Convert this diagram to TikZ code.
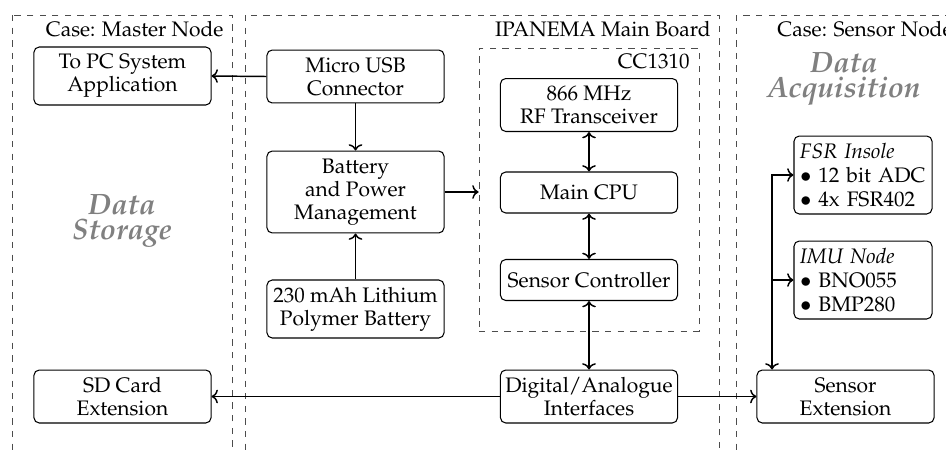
\documentclass[tikz,border=0pt]{standalone}
\usepackage[T1]{fontenc}
\usepackage{mathpazo}
\usetikzlibrary{arrows.meta}
\begin{document}
\begin{tikzpicture}[x=0.476pt,y=-0.476pt,
  box/.style={draw, line width=0.5pt, rounded corners=2.5pt, align=center, inner sep=0pt,
    minimum width=84.3pt, font=\fontsize{10}{11}\selectfont},
  listbox/.style={draw, line width=0.5pt, rounded corners=2.5pt, align=left, inner sep=0pt,
    minimum width=65.7pt, minimum height=37.1pt, text width=60pt,
    font=\fontsize{10}{11.3}\selectfont},
  region/.style={draw=black!70, dashed, line width=0.45pt},
  lbl/.style={inner sep=0pt, font=\fontsize{10}{11}\selectfont},
  datalbl/.style={inner sep=0pt, align=center, text=black!50,
    font=\fontsize{14}{12.2}\selectfont\bfseries\itshape},
  arr/.style={line width=0.7pt, -{To[length=3pt,width=6.5pt]}},
  biarr/.style={line width=0.7pt, {To[length=3pt,width=6.5pt]}-{To[length=3pt,width=6.5pt]}}
]
\clip (0,0) rectangle (946,450);
% regions
\draw[region] (12,15) rectangle (232,480);
\draw[region] (245.5,15) rectangle (719,480);
\draw[region] (736,15) rectangle (990,480);
\node[region, inner sep=0pt, minimum width=104.7pt, minimum height=134.7pt] (cc) at (589,189.5) {};
% region labels
\node[lbl, anchor=base east] (lmaster) at (224,36) {Case: Master Node};
\node[lbl, anchor=base east] (lmain) at (711,36) {IPANEMA Main Board};
\node[lbl, anchor=base east] (lcc) at (690,68) {CC1310};
\node[lbl, anchor=base west] (lsensor) at (777,36) {Case: Sensor Node};
\node[datalbl] (dstore) at (122,221) {Data\\Storage};
\node[datalbl] (dacq) at (844,79) {Data\\Acquisition};
% boxes
\node[box, minimum height=27.6pt] (topc) at (122.5,76) {To PC System\\Application};
\node[box, minimum height=25.2pt] (usb) at (355.5,76.5) {Micro USB\\Connector};
\node[box, minimum height=39pt] (bpm) at (355.5,192) {Battery\\and Power\\Management};
\node[box, minimum height=27.6pt] (bat) at (355.5,309) {230 mAh Lithium\\Polymer Battery};
\node[box, minimum height=25.2pt] (sd) at (122.5,396.5) {SD Card\\Extension};
\node[box, minimum height=25.2pt] (rf) at (589,105) {866 MHz\\RF Transceiver};
\node[box, minimum height=19.5pt] (cpu) at (589,192.5) {Main CPU};
\node[box, minimum height=19.5pt] (sc) at (589,280) {Sensor Controller};
\node[box, minimum height=25.2pt] (dai) at (589,396.5) {Digital/Analogue\\Interfaces};
\node[box, minimum height=25.2pt] (ext) at (845.5,396.5) {Sensor\\Extension};
\node[listbox] (fsr) at (863,175) {\textit{FSR Insole}\\$\bullet$ 12 bit ADC\\$\bullet$ 4x FSR402};
\node[listbox] (imu) at (863,280) {\textit{IMU Node}\\$\bullet$ BNO055\\$\bullet$ BMP280};
\coordinate (busx) at (772,0);
% connectors
\draw[arr] (usb.west) -- (topc.east);
\draw[arr] (usb.south) -- (bpm.north);
\draw[arr] (bat.north) -- (bpm.south);
\draw[arr] (bpm.east) -- (bpm.east -| cc.west);
\draw[biarr] (rf.south) -- (cpu.north);
\draw[biarr] (cpu.south) -- (sc.north);
\draw[biarr] (sc.south) -- (dai.north);
\draw[arr] (dai.west) -- (sd.east);
\draw[arr] (dai.east) -- (ext.west);
\draw[biarr] (ext.north -| busx) |- (fsr.west);
\draw[arr] (imu.west -| busx) -- (imu.west);
\end{tikzpicture}
\end{document}
